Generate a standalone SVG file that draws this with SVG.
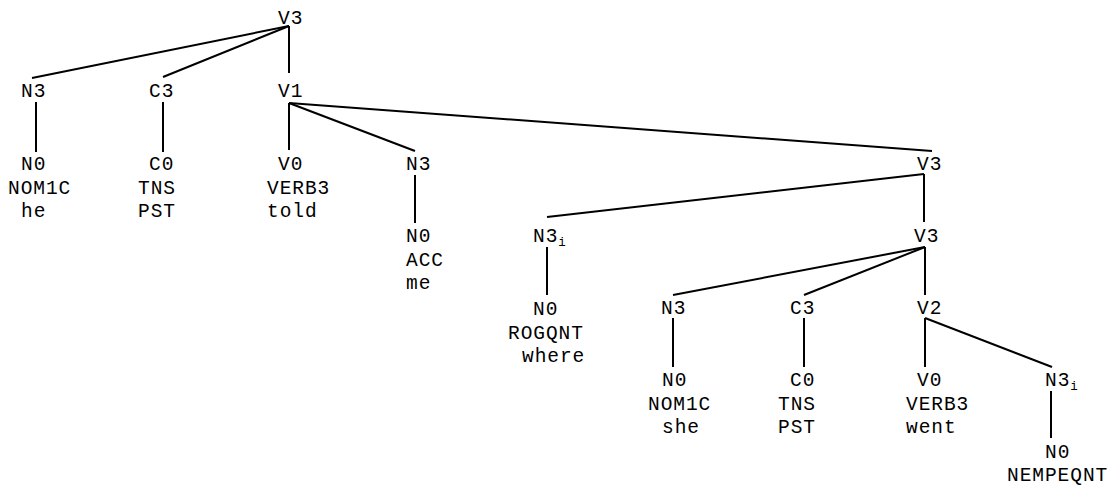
<svg xmlns="http://www.w3.org/2000/svg" width="1112" height="485" viewBox="0 0 1112 485">
<style>
text{font-family:"Liberation Mono","Courier New",monospace;font-size:19.5px;letter-spacing:0.95px;fill:#000}
.sub{font-size:12.5px;letter-spacing:0}
#connectors line{stroke:#000;stroke-width:2;stroke-linecap:butt}
</style>
<rect width="1112" height="485" fill="#fff"/>
<g id="connectors">
<line x1="289" y1="26" x2="32" y2="78"/>
<line x1="289" y1="26" x2="163" y2="77"/>
<line x1="289" y1="26" x2="289" y2="73"/>
<line x1="36" y1="102" x2="36" y2="152"/>
<line x1="163" y1="102" x2="163" y2="152"/>
<line x1="289" y1="103" x2="289" y2="150"/>
<line x1="289" y1="103" x2="415" y2="151"/>
<line x1="289" y1="103" x2="932" y2="151"/>
<line x1="415" y1="175" x2="415" y2="223"/>
<line x1="924" y1="174" x2="547" y2="217"/>
<line x1="924" y1="174" x2="924" y2="222"/>
<line x1="547" y1="247" x2="547" y2="295"/>
<line x1="925" y1="247" x2="673" y2="295"/>
<line x1="925" y1="247" x2="804" y2="295"/>
<line x1="925" y1="247" x2="925" y2="295"/>
<line x1="673" y1="318" x2="673" y2="367"/>
<line x1="804" y1="318" x2="804" y2="367"/>
<line x1="925" y1="318" x2="925" y2="367"/>
<line x1="925" y1="318" x2="1052" y2="367"/>
<line x1="1051" y1="391" x2="1051" y2="438"/>
</g>
<g id="n-root"><text x="278" y="24">V3</text></g>
<g id="n-n3a"><text x="21" y="97">N3</text></g>
<g id="n-c3a"><text x="149" y="97">C3</text></g>
<g id="n-v1"><text x="278" y="97">V1</text></g>
<g id="n-n0a"><text x="21" y="170">N0</text><text x="8" y="193.5">NOM1C</text><text x="21" y="217">he</text></g>
<g id="n-c0a"><text x="149" y="170">C0</text><text x="138" y="193.5">TNS</text><text x="138" y="217">PST</text></g>
<g id="n-v0a"><text x="278" y="170">V0</text><text x="267" y="193.5">VERB3</text><text x="267" y="217">told</text></g>
<g id="n-n3b"><text x="406" y="170">N3</text></g>
<g id="n-v3b"><text x="917" y="170">V3</text></g>
<g id="n-n0b"><text x="406" y="242">N0</text><text x="406" y="265.5">ACC</text><text x="406" y="289">me</text></g>
<g id="n-n3i"><text x="533" y="242">N3<tspan class="sub" dy="4">i</tspan></text></g>
<g id="n-v3c"><text x="914" y="242">V3</text></g>
<g id="n-n0c"><text x="533" y="315">N0</text><text x="508" y="338.5">ROGQNT</text><text x="522" y="362">where</text></g>
<g id="n-n3c"><text x="661" y="314">N3</text></g>
<g id="n-c3c"><text x="790" y="314">C3</text></g>
<g id="n-v2"><text x="917" y="314">V2</text></g>
<g id="n-n0d"><text x="662" y="386">N0</text><text x="648" y="409.5">NOM1C</text><text x="662" y="433">she</text></g>
<g id="n-c0d"><text x="790" y="386">C0</text><text x="778" y="409.5">TNS</text><text x="778" y="433">PST</text></g>
<g id="n-v0d"><text x="917" y="386">V0</text><text x="906" y="409.5">VERB3</text><text x="906" y="433">went</text></g>
<g id="n-n3i2"><text x="1045" y="386">N3<tspan class="sub" dy="4">i</tspan></text></g>
<g id="n-n0e"><text x="1045" y="458">N0</text><text x="1007" y="481">NEMPEQNT</text></g>
</svg>
